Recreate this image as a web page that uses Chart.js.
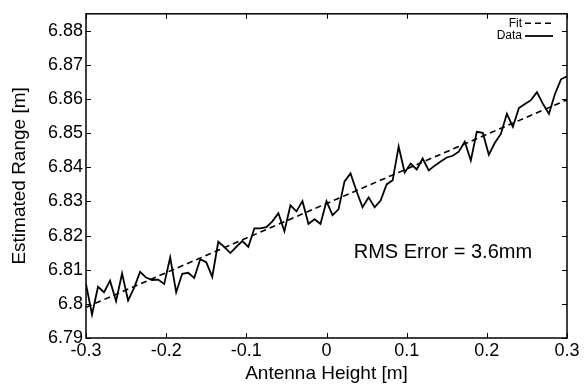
<!DOCTYPE html>
<html>
<head>
<meta charset="utf-8">
<script src="https://cdn.jsdelivr.net/npm/chart.js@4"></script>
<style>
  html, body { margin: 0; padding: 0; background: #fff; }
</style>
</head>
<body>
<canvas id="rangeChart" width="585" height="385"></canvas>
<script>
// --- Data ---
const antennaHeights = [
  -0.3000, -0.2925, -0.2850, -0.2775, -0.2700, -0.2625, -0.2550, -0.2475, -0.2400, -0.2325,
  -0.2250, -0.2175, -0.2100, -0.2025, -0.1950, -0.1875, -0.1800, -0.1725, -0.1650, -0.1575,
  -0.1500, -0.1425, -0.1350, -0.1275, -0.1200, -0.1125, -0.1050, -0.0975, -0.0900, -0.0825,
  -0.0750, -0.0675, -0.0600, -0.0525, -0.0450, -0.0375, -0.0300, -0.0225, -0.0150, -0.0075,
  0.0000, 0.0075, 0.0150, 0.0225, 0.0300, 0.0375, 0.0450, 0.0525, 0.0600, 0.0675,
  0.0750, 0.0825, 0.0900, 0.0975, 0.1050, 0.1125, 0.1200, 0.1275, 0.1350, 0.1425,
  0.1500, 0.1575, 0.1650, 0.1725, 0.1800, 0.1875, 0.1950, 0.2025, 0.2100, 0.2175,
  0.2250, 0.2325, 0.2400, 0.2475, 0.2550, 0.2625, 0.2700, 0.2775, 0.2850, 0.2925,
  0.3000
];

const estimatedRange = [
  6.8058, 6.7969, 6.8050, 6.8034, 6.8068, 6.8008, 6.8089, 6.8010, 6.8047, 6.8094,
  6.8077, 6.8070, 6.8071, 6.8058, 6.8136, 6.8034, 6.8088, 6.8091, 6.8076, 6.8131,
  6.8122, 6.8079, 6.8182, 6.8167, 6.8149, 6.8167, 6.8184, 6.8167, 6.8221, 6.8221,
  6.8225, 6.8242, 6.8266, 6.8213, 6.8289, 6.8271, 6.8301, 6.8234, 6.8248, 6.8234,
  6.8301, 6.8260, 6.8277, 6.8359, 6.8382, 6.8330, 6.8283, 6.8312, 6.8283, 6.8303,
  6.8350, 6.8362, 6.8461, 6.8385, 6.8411, 6.8394, 6.8426, 6.8391, 6.8405, 6.8417,
  6.8429, 6.8434, 6.8446, 6.8475, 6.8420, 6.8504, 6.8501, 6.8437, 6.8472, 6.8498,
  6.8557, 6.8519, 6.8574, 6.8586, 6.8597, 6.8620, 6.8586, 6.8557, 6.8615, 6.8658,
  6.8667
];

const fitHeights = [-0.3, 0.3];
const fitRange = [6.7990, 6.8598];

const xTicks = [-0.3, -0.2, -0.1, 0, 0.1, 0.2, 0.3];
const xTickLabels = ['-0.3', '-0.2', '-0.1', '0', '0.1', '0.2', '0.3'];
const yTicks = [6.79, 6.80, 6.81, 6.82, 6.83, 6.84, 6.85, 6.86, 6.87, 6.88];
const yTickLabels = ['6.79', '6.8', '6.81', '6.82', '6.83', '6.84', '6.85', '6.86', '6.87', '6.88'];

const rmsText = 'RMS Error = 3.6mm';
const rmsAt = { x: 0.034, y: 6.8152 };

const FONT = '"Liberation Sans", Arial, Helvetica, sans-serif';

// --- Box frame + inward ticks on all four sides ---
const frameTicks = {
  id: 'frameTicks',
  afterDatasetsDraw(chart) {
    const { ctx, chartArea: a, scales } = chart;
    const len = 5;
    ctx.save();
    ctx.strokeStyle = '#000';
    ctx.lineWidth = 1;
    ctx.beginPath();
    scales.x.ticks.forEach(t => {
      const px = Math.round(scales.x.getPixelForValue(t.value)) + 0.5;
      ctx.moveTo(px, a.bottom); ctx.lineTo(px, a.bottom - len);
      ctx.moveTo(px, a.top); ctx.lineTo(px, a.top + len);
    });
    scales.y.ticks.forEach(t => {
      const py = Math.round(scales.y.getPixelForValue(t.value)) + 0.5;
      ctx.moveTo(a.left, py); ctx.lineTo(a.left + len, py);
      ctx.moveTo(a.right, py); ctx.lineTo(a.right - len, py);
    });
    ctx.stroke();
    ctx.lineWidth = 1.5;
    ctx.strokeRect(a.left, a.top, a.right - a.left, a.bottom - a.top);
    ctx.restore();
  }
};

// --- Legend in the MATLAB style: label, then line sample ---
const lineLegend = {
  id: 'lineLegend',
  afterDraw(chart) {
    const { ctx, chartArea: a } = chart;
    const order = [1, 0];
    ctx.save();
    ctx.font = '12px ' + FONT;
    ctx.fillStyle = '#000';
    ctx.textAlign = 'right';
    ctx.textBaseline = 'middle';
    order.forEach((di, row) => {
      const ds = chart.data.datasets[di];
      const y = a.top + 9.5 + row * 12.7;
      ctx.fillText(ds.label, a.right - 45, y);
      ctx.beginPath();
      ctx.setLineDash(ds.borderDash || []);
      ctx.lineWidth = ds.borderWidth;
      ctx.strokeStyle = ds.borderColor;
      ctx.moveTo(a.right - 42, y);
      ctx.lineTo(a.right - 14, y);
      ctx.stroke();
    });
    ctx.restore();
  }
};

// --- RMS note placed in data coordinates ---
const rmsNote = {
  id: 'rmsNote',
  afterDraw(chart) {
    const { ctx, scales } = chart;
    ctx.save();
    ctx.font = '20px ' + FONT;
    ctx.fillStyle = '#000';
    ctx.textAlign = 'left';
    ctx.textBaseline = 'middle';
    ctx.fillText(rmsText, scales.x.getPixelForValue(rmsAt.x), scales.y.getPixelForValue(rmsAt.y));
    ctx.restore();
  }
};

const ctx = document.getElementById('rangeChart').getContext('2d');
new Chart(ctx, {
  type: 'line',
  data: {
    datasets: [
      {
        label: 'Data',
        data: antennaHeights.map((h, i) => ({ x: h, y: estimatedRange[i] })),
        borderColor: '#000',
        borderWidth: 1.8,
        pointRadius: 0,
        tension: 0,
        fill: false
      },
      {
        label: 'Fit',
        data: fitHeights.map((h, i) => ({ x: h, y: fitRange[i] })),
        borderColor: '#000',
        borderWidth: 1.6,
        borderDash: [6, 4],
        pointRadius: 0,
        tension: 0,
        fill: false
      }
    ]
  },
  options: {
    responsive: false,
    animation: false,
    layout: { padding: { top: 11, right: 18, bottom: 0, left: 0 } },
    plugins: {
      legend: { display: false },
      tooltip: { enabled: false }
    },
    scales: {
      x: {
        type: 'linear',
        min: -0.3,
        max: 0.3,
        grid: { display: false, drawTicks: false, tickLength: 0 },
        border: { display: false },
        afterBuildTicks: s => { s.ticks = xTicks.map(v => ({ value: v })); },
        afterFit: s => { s.height = 47; },
        ticks: {
          color: '#000',
          padding: 2,
          maxRotation: 0,
          font: { family: FONT, size: 18 },
          callback: (v, i) => xTickLabels[i]
        },
        title: {
          display: true,
          text: 'Antenna Height [m]',
          color: '#000',
          padding: { top: 0, bottom: 0 },
          font: { family: FONT, size: 19 }
        }
      },
      y: {
        type: 'linear',
        min: 6.79,
        max: 6.885,
        grid: { display: false, drawTicks: false, tickLength: 0 },
        border: { display: false },
        afterBuildTicks: s => { s.ticks = yTicks.map(v => ({ value: v })); },
        afterFit: s => { s.width = 86; },
        ticks: {
          color: '#000',
          padding: 3,
          font: { family: FONT, size: 18 },
          callback: (v, i) => yTickLabels[i]
        },
        title: {
          display: true,
          text: 'Estimated Range [m]',
          color: '#000',
          padding: { top: 8, bottom: 0 },
          font: { family: FONT, size: 19 }
        }
      }
    }
  },
  plugins: [frameTicks, lineLegend, rmsNote]
});
</script>
</body>
</html>
